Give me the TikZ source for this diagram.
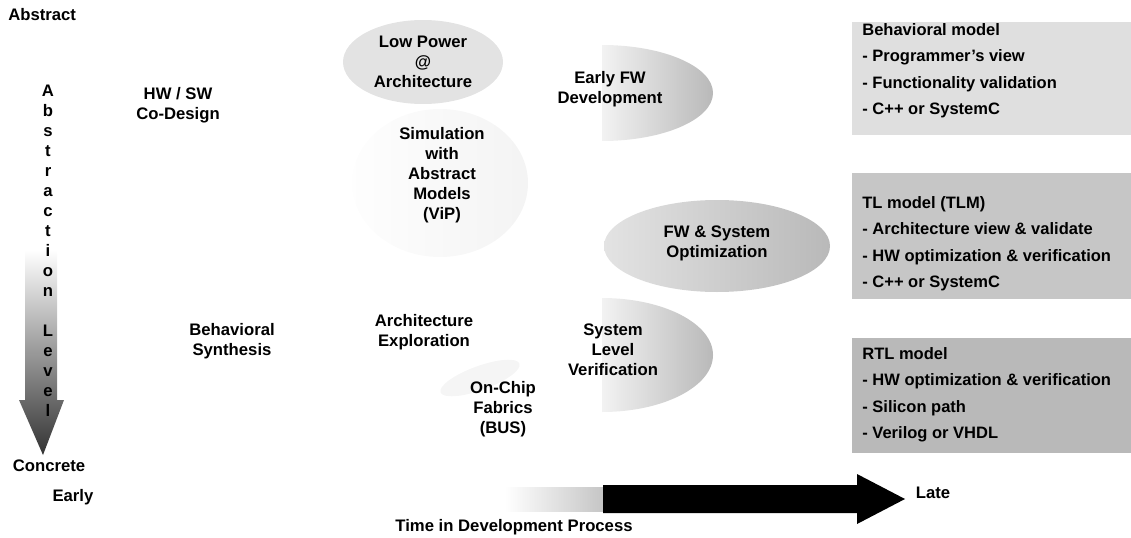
\documentclass[tikz,border=0pt]{standalone}
\usepackage{fontspec}
\setmainfont{Liberation Sans}
\usetikzlibrary{calc}

\begin{document}
\begin{tikzpicture}[x=0.02cm, y=-0.02cm, font=\fontsize{9.5}{11.4}\selectfont\bfseries,
  lbl/.style={align=center, inner sep=0pt},
  modelbox/.style={rectangle, anchor=north west, minimum width=5.58cm, inner sep=0pt},
  modeltext/.style={anchor=north west, align=left, inner sep=0pt, font=\fontsize{9.4}{15}\selectfont\bfseries}]
  \useasboundingbox (0,0) rectangle (1131,537);

  % clouds
  \shade[left color=gray!1, right color=gray!9] (440,183) ellipse [x radius=88, y radius=74];
  \fill[gray!22] (423,62) ellipse [x radius=80, y radius=42];
  \shade[left color=gray!10, right color=gray!55] (602,45) arc [start angle=-90, end angle=90, x radius=111, y radius=48] -- cycle;
  \shade[left color=gray!22, right color=gray!55] (717,246) ellipse [x radius=113, y radius=46];
  \shade[left color=gray!10, right color=gray!55] (602,298) arc [start angle=-90, end angle=90, x radius=111, y radius=57] -- cycle;
  \fill[gray!8, rotate around={20:(480,378)}] (480,378) ellipse [x radius=42, y radius=12];

  % axes
  \shade[top color=white, middle color=gray!60, bottom color=black!80] (25,250) -- (57,250) -- (57,400) -- (64,400) -- (43,455) -- (19,400) -- (25,400) -- cycle;
  \shade[left color=white, right color=gray!45] (505,487) rectangle (603,511);
  \fill[black] (603,485) -- (857,485) -- (857,474) -- (905,499) -- (857,524) -- (857,513) -- (603,513) -- cycle;

  % model boxes
  \node[modelbox, minimum height=2.26cm, fill=gray!25] (bmbox) at (852,22) {};
  \node[modelbox, minimum height=2.52cm, fill=gray!45] (tlbox) at (852,173) {};
  \node[modelbox, minimum height=2.3cm, fill=gray!55] (rtlbox) at (852,338) {};
  \node[modeltext] (bmtext) at ([shift={(10,1)}]bmbox.north west) {Behavioral model\\- Programmer's view\\- Functionality validation\\- C++ or SystemC};
  \node[modeltext] (tltext) at ([shift={(10,23)}]tlbox.north west) {TL model (TLM)\\- Architecture view \& validate\\- HW optimization \& verification\\- C++ or SystemC};
  \node[modeltext] (rtltext) at ([shift={(10,9)}]rtlbox.north west) {RTL model\\- HW optimization \& verification\\- Silicon path\\- Verilog or VHDL};

  \node[lbl, anchor=west] (abstract) at (8,15) {Abstract};
  \node[lbl] (level) at (48,250.5) {A\\b\\s\\t\\r\\a\\c\\t\\i\\o\\n\\[11.3pt]L\\e\\v\\e\\l};
  \node[lbl] (concrete) at (49,466) {Concrete};
  \node[lbl] (early) at (73,497) {Early};
  \node[lbl] (codesign) at (178,105) {HW / SW\\Co-Design};
  \node[lbl] (behsyn) at (232,341) {Behavioral\\Synthesis};
  \node[lbl] (lowpower) at (423,62) {Low Power\\@\\Architecture};
  \node[lbl] (simul) at (442,175) {Simulation\\with\\Abstract\\Models\\(ViP)};
  \node[lbl] (earlyfw) at (610,89) {Early FW\\Development};
  \node[lbl] (fwopt) at (717,243) {FW \& System\\Optimization};
  \node[lbl] (archexp) at (424,332) {Architecture\\Exploration};
  \node[lbl] (syslevel) at (613,350) {System\\Level\\Verification};
  \node[lbl] (onchip) at (503,409) {On-Chip\\Fabrics\\(BUS)};
  \node[lbl] (timeaxis) at (514,527) {Time in Development Process};
  \node[lbl] (late) at (933,493) {Late};
\end{tikzpicture}
\end{document}
